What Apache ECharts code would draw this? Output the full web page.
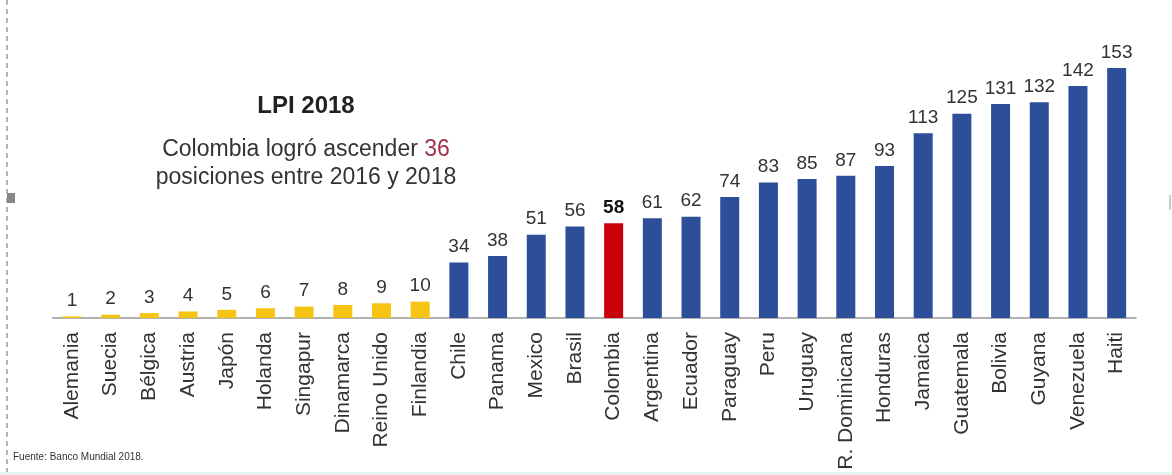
<!DOCTYPE html>
<html>
<head>
<meta charset="utf-8">
<script src="https://cdn.jsdelivr.net/npm/echarts@6/dist/echarts.min.js"></script>
<style>
html,body{margin:0;padding:0;background:#fff;}
#c{width:1172px;height:475px;}
</style>
</head>
<body>
<div id="c"></div>
<script>
const categories = ['Alemania','Suecia','Bélgica','Austria','Japón','Holanda','Singapur','Dinamarca','Reino Unido','Finlandia','Chile','Panama','Mexico','Brasil','Colombia','Argentina','Ecuador','Paraguay','Peru','Uruguay','R. Dominicana','Honduras','Jamaica','Guatemala','Bolivia','Guyana','Venezuela','Haiti'];
const ranks = [1,2,3,4,5,6,7,8,9,10,34,38,51,56,58,61,62,74,83,85,87,93,113,125,131,132,142,153];
const highlight = 'Colombia';
const topGroupMax = 10;

const FONT = '"Liberation Sans", Arial, sans-serif';
const BLUE = '#2D4F99', YELLOW = '#F6C413', RED = '#C8000A';

const data = ranks.map((v, i) => {
  const name = categories[i];
  const item = { value: v, itemStyle: { color: name === highlight ? RED : (v <= topGroupMax ? YELLOW : BLUE) } };
  if (name === highlight) item.label = { fontWeight: 'bold', color: '#111' };
  return item;
});

const chart = echarts.init(document.getElementById('c'), null, { renderer: 'canvas' });
chart.setOption({
  animation: false,
  backgroundColor: '#fff',
  grid: { left: 52.6, right: 36, top: 68, bottom: 157, containLabel: false },
  xAxis: {
    type: 'category',
    data: categories,
    axisLine: { lineStyle: { color: '#999', width: 1.5 } },
    axisTick: { show: false },
    axisLabel: { interval: 0, rotate: 90, fontSize: 21, color: '#333', margin: 14, fontFamily: FONT }
  },
  yAxis: { type: 'value', min: 0, max: 153, show: false, splitLine: { show: false } },
  series: [{
    type: 'bar',
    data: data,
    barWidth: 19,
    label: { show: true, position: 'top', distance: 6, fontSize: 19, color: '#333', fontFamily: FONT }
  }],
  graphic: [
    { type: 'line', shape: { x1: 7, y1: 0, x2: 7, y2: 475 }, style: { stroke: '#999', lineWidth: 1.5, lineDash: [5, 4] } },
    { type: 'rect', shape: { x: 7, y: 193, width: 8, height: 10 }, style: { fill: '#888' } },
    { type: 'rect', shape: { x: 1169, y: 195, width: 2, height: 15 }, style: { fill: '#ccc' } },
    { type: 'rect', shape: { x: 0, y: 472, width: 1172, height: 3 }, style: { fill: '#e6f3f3' } },
    { type: 'text', x: 306, y: 106, style: { text: 'LPI 2018', font: 'bold 24px ' + FONT, fill: '#222', textAlign: 'center', textVerticalAlign: 'middle' } },
    { type: 'text', x: 306, y: 150, style: { text: '{a|Colombia logró ascender }{r|36}', font: '23px ' + FONT, fill: '#333', textAlign: 'center', textVerticalAlign: 'middle',
      rich: { a: { font: '23px ' + FONT, fill: '#333' }, r: { font: '23px ' + FONT, fill: '#A3314B' } } } },
    { type: 'text', x: 306, y: 178, style: { text: 'posiciones entre 2016 y 2018', font: '23px ' + FONT, fill: '#333', textAlign: 'center', textVerticalAlign: 'middle' } },
    { type: 'text', x: 13, y: 457, style: { text: 'Fuente: Banco Mundial 2018.', font: '10px ' + FONT, fill: '#333', textAlign: 'left', textVerticalAlign: 'middle' } }
  ]
});
</script>
</body>
</html>
